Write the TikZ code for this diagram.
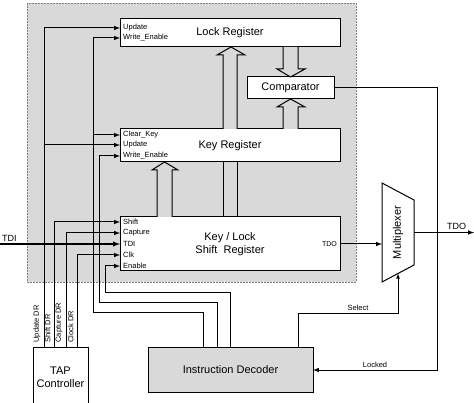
\documentclass[tikz,border=0pt]{standalone}
\usepackage{fontspec}
\setmainfont{Liberation Sans}
\usetikzlibrary{arrows}
\definecolor{panel}{gray}{0.85}
\tikzset{
  block/.style={rectangle, draw=black, fill=white, line width=1pt, inner sep=0pt, outer sep=0pt, text centered, align=center, font=\fontsize{11}{13}\selectfont},
  pin/.style={anchor=west, inner sep=3pt, font=\fontsize{7.5}{9}\selectfont},
  small/.style={font=\fontsize{7.5}{9}\selectfont},
  sig/.style={line width=1pt,->,>=latex},
  hollow/.style={draw=black, line width=1pt, fill=panel}
}

\begin{document}
\begin{tikzpicture}[x=1pt, y=-1pt]
        \clip (0,0) rectangle (474,403);
        \fill[white] (0,0) rectangle (474,403);

        % Zona gris
        \draw[gray, dash pattern=on 2pt off 1pt, line width=0.6pt, fill=panel] (27,3) rectangle (356,282);

        % Registros
        \node (lockreg) [block, minimum width=220pt, minimum height=28pt] at (230,33) {Lock Register};
        \node (keyreg) [block, minimum width=220pt, minimum height=33pt] at (230,145.5) {Key Register};
        \node (comp) [block, minimum width=87pt, minimum height=22pt] at (290.5,88) {Comparator};
        \node (shiftreg) [block, minimum width=220pt, minimum height=54pt] at (230,244) {Key / Lock\\Shift~~Register};
        \node (decoder) [block, fill=panel, minimum width=165pt, minimum height=44pt] at (230.5,370) {Instruction Decoder};
        \node (tap) [block, minimum width=55pt, minimum height=58pt] at (60.5,377) {TAP\\Controller};

        % Multiplexor
        \draw[line width=1pt, fill=white] (382,183) -- (414,200) -- (414,265) -- (382,282) -- cycle;
        \node (mux) [minimum width=32pt, minimum height=82pt, inner sep=0pt, outer sep=0pt] at (398,232.5) {};
        \node (muxlbl) [rotate=90, font=\fontsize{11}{13}\selectfont] at (mux) {Multiplexer};

        % Flechas huecas
        \draw[hollow] (223,129) -- (223,55) -- (217,55) -- (231,47) -- (245,55) -- (237,55) -- (237,129);
        \draw[line width=1pt] (223,162) -- (223,217) (237,162) -- (237,217);
        \draw[hollow] (157,217) -- (157,170) -- (152,170) -- (164.5,162) -- (178,170) -- (172,170) -- (172,217);
        \draw[hollow] (283,47) -- (283,69) -- (277,69) -- (290.5,77) -- (305,69) -- (298,69) -- (298,47);
        \draw[hollow] (283,129) -- (283,107) -- (277,107) -- (290.5,99) -- (305,107) -- (298,107) -- (298,129);

        % Entradas
        \node (lupd) [pin] at (120,28) {Update};
        \node (lwe) [pin] at (120,38) {Write\_Enable};
        \node (kclr) [pin] at (120,135) {Clear\_Key};
        \node (kupd) [pin] at (120,145) {Update};
        \node (kwe) [pin] at (120,156) {Write\_Enable};
        \node (sshift) [pin] at (120,222) {Shift};
        \node (scap) [pin] at (120,233) {Capture};
        \node (stdi) [pin] at (120,244) {TDI};
        \node (sclk) [pin] at (120,255) {Clk};
        \node (sen) [pin] at (120,266) {Enable};
        \node (stdo) [pin, anchor=east, font=\fontsize{7}{8}\selectfont] at (340,244) {TDO};

        % Salidas del TAP
        \coordinate (tupd) at ([xshift=11pt]tap.north west);
        \coordinate (tsh) at ([xshift=21pt]tap.north west);
        \coordinate (tcap) at ([xshift=33pt]tap.north west);
        \coordinate (tclk) at ([xshift=44pt]tap.north west);
        \node (lblupd) [small, rotate=90, anchor=south west] at ([yshift=2pt]tupd) {Update DR};
        \node (lblsh) [small, rotate=90, anchor=south west] at ([yshift=2pt]tsh) {Shift DR};
        \node (lblcap) [small, rotate=90, anchor=south west] at ([yshift=2pt]tcap) {Capture DR};
        \node (lblclk) [small, rotate=90, anchor=south west] at ([yshift=2pt]tclk) {Clock DR};

        % Salidas del decodificador
        \coordinate (da) at ([xshift=55pt]decoder.north west);
        \coordinate (db) at ([xshift=69pt]decoder.north west);
        \coordinate (dc) at ([xshift=82pt]decoder.north west);
        \coordinate (dsel) at ([xshift=150pt]decoder.north west);
        \coordinate (bendA) at (93,313);
        \coordinate (bendB) at (99,303);
        \coordinate (bendC) at (105,293);
        \coordinate (tdiin) at (0,244);

        % Flechas
        \draw [sig] (tupd) |- (lupd.west);
        \draw [sig] (tupd |- kupd.west) -- (kupd.west);
        \draw [sig] (tsh) |- (sshift.west);
        \draw [sig] (tcap) |- (scap.west);
        \draw [sig] (tclk) |- (sclk.west);
        \draw [sig, line width=1.4pt] (tdiin) -- (stdi.west);
        \node (tdilbl) [above right, font=\fontsize{9}{10}\selectfont, inner sep=2pt] at (tdiin) {TDI};

        \draw [sig] (da) |- (bendA) |- (lwe.west);
        \draw [sig] (bendA |- kclr.west) -- (kclr.west);
        \draw [sig] (db) |- (bendB) |- (kwe.west);
        \draw [sig] (dc) |- (bendC) |- (sen.west);

        \draw [sig] (stdo.east) -- (stdo.east -| mux.west);
        \draw [sig] (mux.east) --++ (60,0) node[pos=0.71, above, font=\fontsize{9}{10}\selectfont, inner sep=2pt]{TDO};
        \draw [sig, line width=0.8pt] (dsel) --++ (0,-35) -| node[pos=0.3, above, small, inner sep=2pt]{Select} (mux.south);
        \draw [sig] (comp.east) --++ (103,0) |- node[pos=0.75, above, small, inner sep=2pt]{Locked} (decoder.east);
\end{tikzpicture}
\end{document}
